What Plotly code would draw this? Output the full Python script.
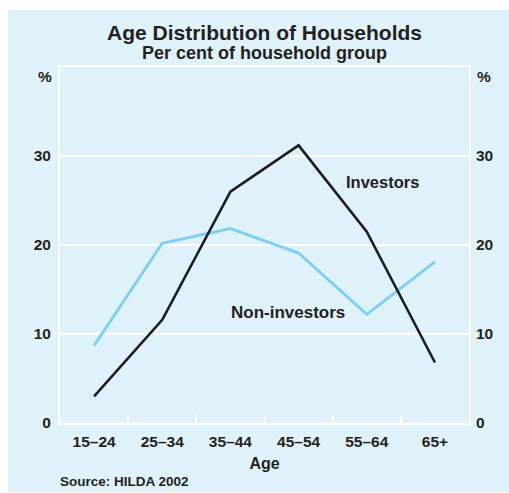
import plotly.graph_objects as go

age_groups = ["15–24", "25–34", "35–44", "45–54", "55–64", "65+"]
investors = [3.0, 11.6, 26.0, 31.2, 21.5, 6.8]
non_investors = [8.7, 20.2, 21.85, 19.1, 12.2, 18.1]
y_ticks = [0, 10, 20, 30]

BG = "#dff2fa"
TXT = "#231f20"
FONT = "Liberation Sans, Arial, sans-serif"

fig = go.Figure()
fig.add_trace(go.Scatter(x=age_groups, y=non_investors, mode="lines",
                         line=dict(color="#7fd0f0", width=3), name="Non-investors"))
fig.add_trace(go.Scatter(x=age_groups, y=investors, mode="lines",
                         line=dict(color="#1c1c24", width=2.6), name="Investors"))
# invisible trace to activate the right axis
fig.add_trace(go.Scatter(x=[age_groups[0]], y=[0], yaxis="y2", mode="markers",
                         marker=dict(opacity=0), showlegend=False, hoverinfo="skip"))

fig.update_layout(
    width=509, height=493,
    margin=dict(l=60, r=40, t=67, b=70),
    paper_bgcolor="white",
    plot_bgcolor=BG,
    showlegend=False,
    font=dict(family=FONT, color=TXT, size=15),
    xaxis=dict(
        type="category", range=[-0.5, 5.5],
        tickson="boundaries", ticks="inside", ticklen=8, tickwidth=2, tickcolor="white",
        showgrid=False, showline=True, linecolor="white", linewidth=2, mirror=True,
        tickfont=dict(size=15.5, family=FONT, color=TXT, weight="bold"),
        ticklabelstandoff=3,
        title=dict(text="<b>Age</b>", font=dict(size=16), standoff=9),
        zeroline=False,
    ),
    yaxis=dict(
        range=[0, 40], tickvals=y_ticks, ticks="", showgrid=True, gridcolor="white", gridwidth=2,
        showline=True, linecolor="white", linewidth=2, mirror=True, zeroline=False,
        tickfont=dict(size=15.5, family=FONT, color=TXT, weight="bold"),
        ticklabelstandoff=4,
    ),
    yaxis2=dict(
        range=[0, 40], tickvals=y_ticks, ticks="", overlaying="y", side="right",
        showgrid=False, zeroline=False, showline=False,
        tickfont=dict(size=15.5, family=FONT, color=TXT, weight="bold"),
        ticklabelstandoff=6,
    ),
    shapes=[dict(type="rect", xref="paper", yref="paper",
                 x0=(8 - 60) / 409, x1=(515 - 60) / 409,
                 y0=(423 - 492) / 356, y1=(423 - 10) / 356,
                 fillcolor=BG, line=dict(width=0), layer="below")],
)

ann = [
    dict(text="<b>Age Distribution of Households</b>", x=0.5, xref="paper",
         y=(423 - 32) / 356, yref="paper", showarrow=False, font=dict(size=21),
         xanchor="center", yanchor="middle"),
    dict(text="<b>Per cent of household group</b>", x=0.5, xref="paper",
         y=(423 - 53) / 356, yref="paper", showarrow=False, font=dict(size=18),
         xanchor="center", yanchor="middle"),
    dict(text="<b>%</b>", x=(45 - 60) / 409, xref="paper", y=(423 - 77) / 356, yref="paper",
         showarrow=False, font=dict(size=15.5), xanchor="center", yanchor="middle"),
    dict(text="<b>%</b>", x=(484 - 60) / 409, xref="paper", y=(423 - 77) / 356, yref="paper",
         showarrow=False, font=dict(size=15.5), xanchor="center", yanchor="middle"),
    dict(text="<b>Investors</b>", x=4.23, xref="x", y=27.1, yref="y",
         showarrow=False, font=dict(size=16.5), xanchor="center", yanchor="middle"),
    dict(text="<b>Non-investors</b>", x=2.85, xref="x", y=12.45, yref="y",
         showarrow=False, font=dict(size=17), xanchor="center", yanchor="middle"),
    dict(text="<b>Source: HILDA 2002</b>", x=(58 - 60) / 409, xref="paper",
         y=(423 - 481) / 356, yref="paper", showarrow=False, font=dict(size=13.5),
         xanchor="left", yanchor="middle"),
]
fig.update_layout(annotations=ann)

fig.write_html("out.html", config={"displayModeBar": False},
               post_script="document.body.style.margin='0';")
